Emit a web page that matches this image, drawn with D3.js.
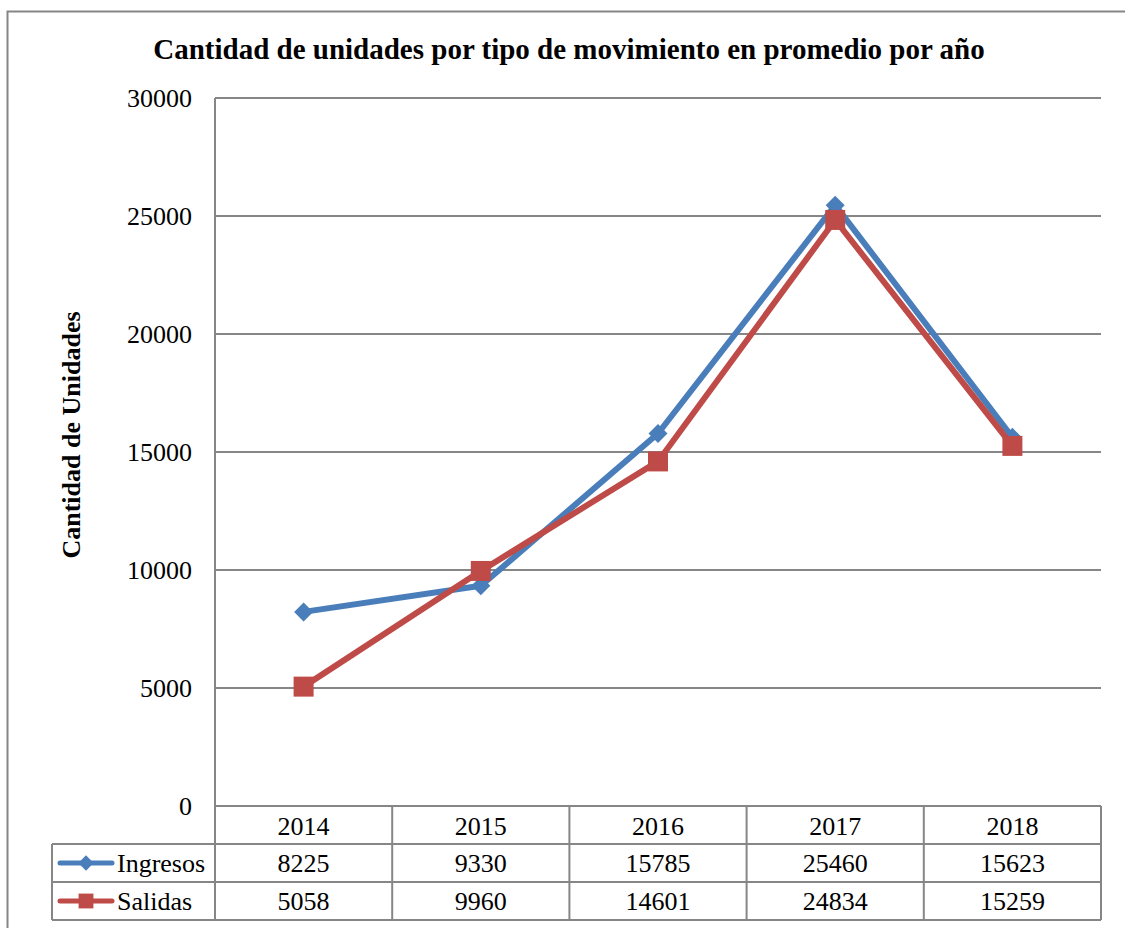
<!DOCTYPE html>
<html>
<head>
<meta charset="utf-8">
<script src="https://cdn.jsdelivr.net/npm/d3@7"></script>
<style>
  body { margin: 0; background: #fff; }
  text { font-family: "Liberation Serif", "Times New Roman", serif; fill: #000; }
</style>
</head>
<body>
<div id="chart"></div>
<script>
var years = ["2014", "2015", "2016", "2017", "2018"];
var ingresos = [8225, 9330, 15785, 25460, 15623];
var salidas = [5058, 9960, 14601, 24834, 15259];
var yTicks = [0, 5000, 10000, 15000, 20000, 25000, 30000];

var seriesList = [
  { name: "Ingresos", values: ingresos, color: "#4A7EBB", marker: "diamond" },
  { name: "Salidas", values: salidas, color: "#BE4B48", marker: "square" }
];

var svgWidth = 1125;
var svgHeight = 928;
var plot = { left: 215, right: 1101, top: 98, bottom: 806 };
var rowH = 38;
var gridColor = "#868686";

var svg = d3.select("#chart")
  .append("svg")
  .attr("width", svgWidth)
  .attr("height", svgHeight);

// outer frame
svg.append("rect")
  .attr("x", 7.5).attr("y", 11.5)
  .attr("width", 1130).attr("height", 930)
  .attr("fill", "none")
  .attr("stroke", gridColor)
  .attr("stroke-width", 2);

svg.append("text")
  .attr("x", 569).attr("y", 59)
  .attr("text-anchor", "middle")
  .attr("font-size", "29px")
  .attr("font-weight", "bold")
  .text("Cantidad de unidades por tipo de movimiento en promedio por año");

var x = d3.scaleBand().domain(years).range([plot.left, plot.right]);
var y = d3.scaleLinear().domain([0, 30000]).range([plot.bottom, plot.top]);

// gridlines
svg.append("g")
  .selectAll("line")
  .data(yTicks)
  .enter()
  .append("line")
  .attr("x1", plot.left).attr("x2", plot.right)
  .attr("y1", d => y(d)).attr("y2", d => y(d))
  .attr("stroke", gridColor)
  .attr("stroke-width", 2);

// left axis line
svg.append("line")
  .attr("x1", plot.left).attr("x2", plot.left)
  .attr("y1", plot.top).attr("y2", plot.bottom)
  .attr("stroke", gridColor).attr("stroke-width", 2);

// tick labels
svg.append("g")
  .selectAll("text")
  .data(yTicks)
  .enter()
  .append("text")
  .attr("x", 192)
  .attr("y", d => y(d) + 9)
  .attr("text-anchor", "end")
  .attr("font-size", "26px")
  .text(d => d);

svg.append("text")
  .attr("transform", "translate(80," + 435 + ") rotate(-90)")
  .attr("text-anchor", "middle")
  .attr("font-size", "26px")
  .attr("font-weight", "bold")
  .text("Cantidad de Unidades");

// data table
var tableLeft = 52;
var table = svg.append("g");
var rowsY = [plot.bottom, plot.bottom + rowH, plot.bottom + 2 * rowH, plot.bottom + 3 * rowH];

// horizontal lines
rowsY.slice(1).forEach(function(ry) {
  table.append("line")
    .attr("x1", tableLeft).attr("x2", plot.right)
    .attr("y1", ry).attr("y2", ry)
    .attr("stroke", gridColor).attr("stroke-width", 2);
});

// vertical lines
var colEdges = years.map(d => x(d)).concat([plot.right]);
table.selectAll(".vline")
  .data(colEdges)
  .enter()
  .append("line")
  .attr("x1", d => d).attr("x2", d => d)
  .attr("y1", plot.bottom).attr("y2", rowsY[3])
  .attr("stroke", gridColor).attr("stroke-width", 2);
table.append("line")
  .attr("x1", tableLeft).attr("x2", tableLeft)
  .attr("y1", rowsY[1]).attr("y2", rowsY[3])
  .attr("stroke", gridColor).attr("stroke-width", 2);

// year header
table.selectAll(".yr")
  .data(years)
  .enter()
  .append("text")
  .attr("x", d => x(d) + x.bandwidth() / 2)
  .attr("y", plot.bottom + 29)
  .attr("text-anchor", "middle")
  .attr("font-size", "26px")
  .text(d => d);

var diamond = d3.symbol().type(d3.symbolDiamond2).size(230);
var square = d3.symbol().type(d3.symbolSquare).size(400);

function markerPath(s) {
  return s.marker === "diamond" ? diamond() : square();
}

seriesList.forEach(function(s, i) {
  var rowTop = rowsY[i + 1];
  var cy = rowTop + rowH / 2;
  // legend key
  table.append("line")
    .attr("x1", 60).attr("x2", 112)
    .attr("y1", cy).attr("y2", cy)
    .attr("stroke", s.color)
    .attr("stroke-width", 5)
    .attr("stroke-linecap", "round");
  table.append("path")
    .attr("d", s.marker === "diamond" ? d3.symbol().type(d3.symbolDiamond2).size(150)() : d3.symbol().type(d3.symbolSquare).size(220)())
    .attr("transform", "translate(86," + cy + ")")
    .attr("fill", s.color);
  table.append("text")
    .attr("x", 117).attr("y", cy + 9)
    .attr("font-size", "26px")
    .text(s.name);
  // values
  table.selectAll(".v" + i)
    .data(s.values)
    .enter()
    .append("text")
    .attr("x", (d, j) => x(years[j]) + x.bandwidth() / 2)
    .attr("y", cy + 9)
    .attr("text-anchor", "middle")
    .attr("font-size", "26px")
    .text(d => d);
});

// lines and markers
var line = d3.line()
  .x((d, j) => x(years[j]) + x.bandwidth() / 2)
  .y(d => y(d));

seriesList.forEach(function(s) {
  var g = svg.append("g");
  g.append("path")
    .datum(s.values)
    .attr("d", line)
    .attr("fill", "none")
    .attr("stroke", s.color)
    .attr("stroke-width", 6)
    .attr("stroke-linejoin", "round");
  g.selectAll("path.m")
    .data(s.values)
    .enter()
    .append("path")
    .attr("class", "m")
    .attr("d", markerPath(s))
    .attr("transform", (d, j) => "translate(" + (x(years[j]) + x.bandwidth() / 2) + "," + y(d) + ")")
    .attr("fill", s.color);
});
</script>
</body>
</html>
